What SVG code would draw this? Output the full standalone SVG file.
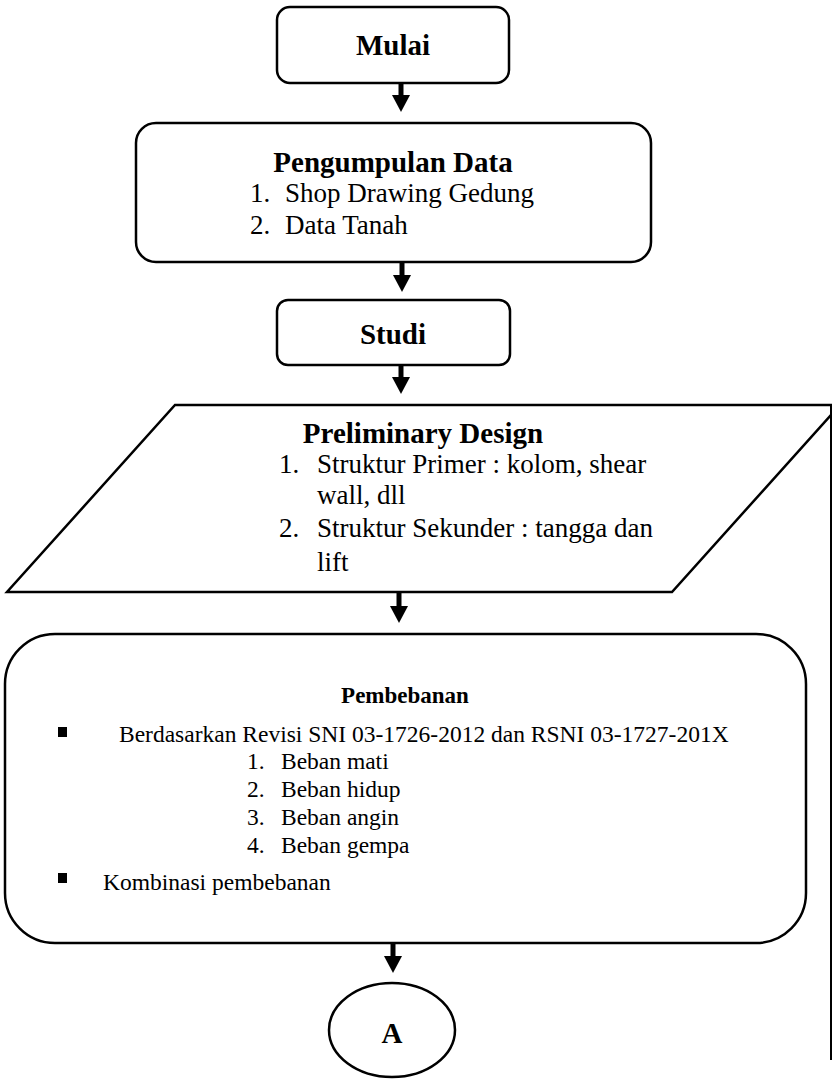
<svg xmlns="http://www.w3.org/2000/svg" width="832" height="1079" viewBox="0 0 832 1079">
  <style>
    .box { fill: #ffffff; stroke: #000000; stroke-width: 2.5; }
    .edge { stroke: #000000; stroke-width: 5; fill: none; }
    .t { font-family: "Liberation Serif", "Times New Roman", serif; fill: #000000; }
    .title { font-weight: bold; font-size: 29px; text-anchor: middle; }
    .item { font-size: 27px; }
    .load { font-size: 23.5px; }
  </style>
  <defs>
    <marker id="arrowhead" markerUnits="userSpaceOnUse" markerWidth="18" markerHeight="18" refX="0" refY="9" orient="auto">
      <path d="M0,0 L17,9 L0,18 Z" fill="#000000"/>
    </marker>
  </defs>

  <rect width="832" height="1079" fill="#ffffff"/>

  <!-- Start -->
  <g id="mulai">
    <rect class="box" x="277" y="7" width="232" height="76" rx="13"/>
    <text class="t title" x="393" y="55">Mulai</text>
  </g>

  <!-- Data collection -->
  <g id="pengumpulan-data">
    <rect class="box" x="136" y="123" width="515" height="139" rx="20"/>
    <text class="t title" x="393" y="172">Pengumpulan Data</text>
    <text class="t item" x="250" y="202">1.</text>
    <text class="t item" x="285" y="202">Shop Drawing Gedung</text>
    <text class="t item" x="250" y="234">2.</text>
    <text class="t item" x="285" y="234">Data Tanah</text>
  </g>

  <!-- Study -->
  <g id="studi">
    <rect class="box" x="277" y="300" width="233" height="65" rx="11"/>
    <text class="t title" x="393" y="344">Studi</text>
  </g>

  <!-- Preliminary design (input/output shape) -->
  <g id="preliminary-design">
    <polygon class="box" points="175,405 840,405 672,592 7,592"/>
    <text class="t title" x="423" y="443">Preliminary Design</text>
    <text class="t item" x="279" y="473">1.</text>
    <text class="t item" x="317" y="473">Struktur Primer : kolom, shear</text>
    <text class="t item" x="317" y="504">wall, dll</text>
    <text class="t item" x="279" y="537">2.</text>
    <text class="t item" x="317" y="537">Struktur Sekunder : tangga dan</text>
    <text class="t item" x="317" y="571">lift</text>
  </g>

  <!-- Loading -->
  <g id="pembebanan">
    <rect class="box" x="5" y="634" width="801" height="309" rx="50"/>
    <text class="t title" x="405" y="703" style="font-size:23px">Pembebanan</text>
    <rect x="58" y="727" width="9" height="10" fill="#000000"/>
    <text class="t load" x="119" y="742">Berdasarkan Revisi SNI 03-1726-2012 dan RSNI 03-1727-201X</text>
    <text class="t load" x="247" y="769">1.</text>
    <text class="t load" x="281" y="769">Beban mati</text>
    <text class="t load" x="247" y="797">2.</text>
    <text class="t load" x="281" y="797">Beban hidup</text>
    <text class="t load" x="247" y="825">3.</text>
    <text class="t load" x="281" y="825">Beban angin</text>
    <text class="t load" x="247" y="853">4.</text>
    <text class="t load" x="281" y="853">Beban gempa</text>
    <rect x="58" y="873" width="9" height="10" fill="#000000"/>
    <text class="t load" x="103" y="890">Kombinasi pembebanan</text>
  </g>

  <!-- Off-page connector -->
  <g id="connector-a">
    <ellipse class="box" cx="392" cy="1030" rx="63" ry="47"/>
    <text class="t title" x="392" y="1043">A</text>
  </g>

  <!-- Connectors -->
  <g id="connectors">
    <line class="edge" x1="401" y1="83" x2="401" y2="95" marker-end="url(#arrowhead)"/>
    <line class="edge" x1="402" y1="262" x2="402" y2="275" marker-end="url(#arrowhead)"/>
    <line class="edge" x1="401" y1="365" x2="401" y2="377" marker-end="url(#arrowhead)"/>
    <line class="edge" x1="399" y1="592" x2="399" y2="606" marker-end="url(#arrowhead)"/>
    <line class="edge" x1="393" y1="943" x2="393" y2="956" marker-end="url(#arrowhead)"/>
    <line x1="831" y1="405" x2="831" y2="1060" stroke="#000000" stroke-width="2"/>
  </g>
</svg>
